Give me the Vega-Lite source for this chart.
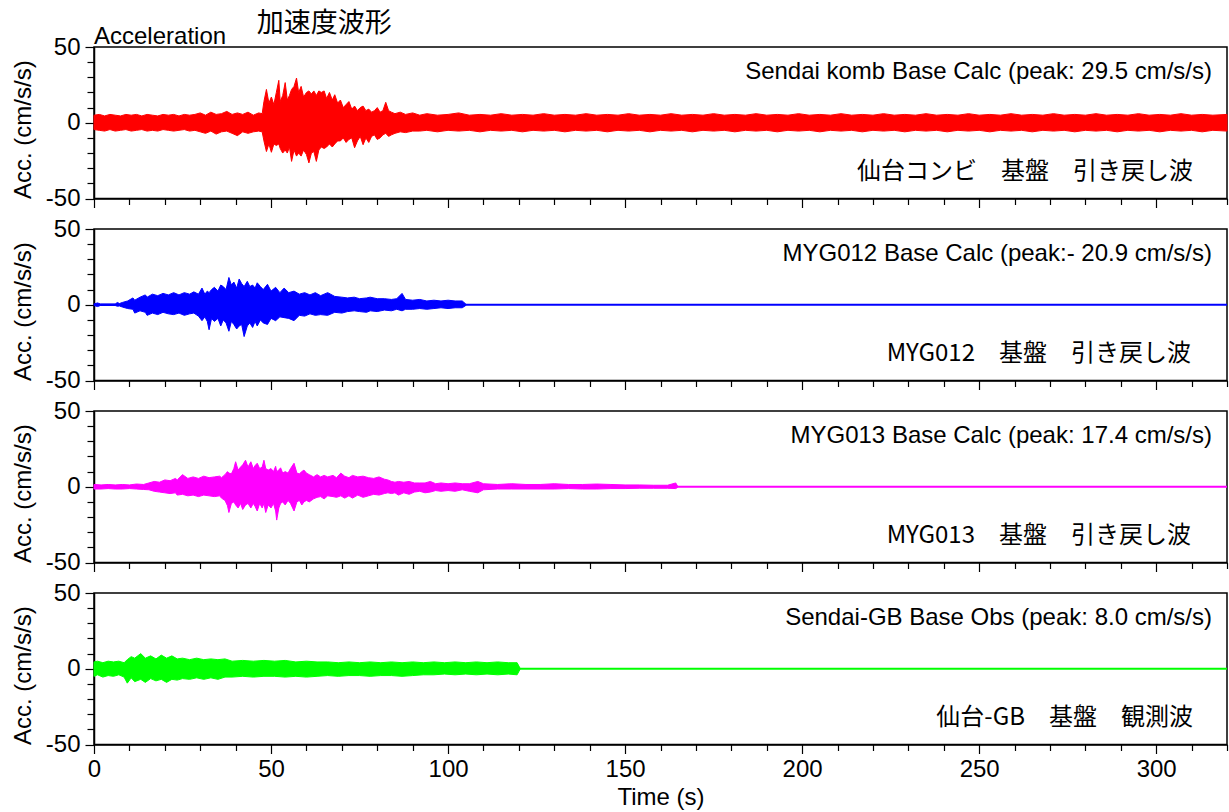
{
  "$schema": "https://vega.github.io/schema/vega-lite/v6.json",
  "padding": {"left": 10, "top": 9, "right": 0, "bottom": 0},
  "bounds": "flush",
  "spacing": 30,
  "config": {
    "font": "Liberation Sans",
    "view": {"stroke": "#000000", "strokeWidth": 1.5},
    "axis": {
      "grid": false, "labelFont": "Liberation Sans", "labelFontSize": 24, "labelColor": "#000000",
      "titleFont": "Liberation Sans", "titleFontSize": 24, "titleFontWeight": "normal", "titleColor": "#000000",
      "domainColor": "#000000", "domainWidth": 1.5, "tickColor": "#000000", "tickWidth": 1.2,
      "labelFlush": false, "labelOverlap": false
    },
    "axisY": {"orient": "left"},
    "axisX": {"orient": "bottom"}
  },
  "datasets": {
    "base": [{"t": 0, "v": 0}, {"t": 320, "v": 0}],
    "red": [
      {"t":0,"hi":5,"lo":-4.5},{"t":1.5,"hi":5.5,"lo":-5},{"t":3,"hi":4.5,"lo":-5.5},{"t":4.5,"hi":5.5,"lo":-4.5},{"t":6,"hi":5,"lo":-5.5},{"t":7.5,"hi":4.5,"lo":-5},{"t":9,"hi":5.5,"lo":-4.5},{"t":10.5,"hi":5,"lo":-5.5},{"t":12,"hi":5.5,"lo":-5},{"t":13.5,"hi":4.5,"lo":-4.5},{"t":15,"hi":5.5,"lo":-5.5},{"t":16.5,"hi":5,"lo":-5},{"t":18,"hi":4.5,"lo":-5.5},{"t":19.5,"hi":5.5,"lo":-4.5},{"t":21,"hi":5,"lo":-5},{"t":22.5,"hi":5.5,"lo":-5.5},{"t":24,"hi":4.5,"lo":-5},{"t":25.5,"hi":5.5,"lo":-4.5},{"t":27,"hi":5,"lo":-5.5},{"t":28.5,"hi":5.5,"lo":-5},
      {"t":30,"hi":6.5,"lo":-6},{"t":31.5,"hi":5,"lo":-7},{"t":33,"hi":7,"lo":-5.5},{"t":34.5,"hi":5.5,"lo":-7.5},{"t":36,"hi":6,"lo":-6},{"t":37.5,"hi":7.5,"lo":-5.5},{"t":39,"hi":5.5,"lo":-7},{"t":40.5,"hi":6.5,"lo":-8.5},{"t":42,"hi":5.5,"lo":-6},{"t":43.5,"hi":7,"lo":-7},{"t":45,"hi":5,"lo":-6},{"t":46.5,"hi":6.5,"lo":-5.5},{"t":47.5,"hi":6,"lo":-6},
      {"t":48,"hi":14,"lo":-12},{"t":48.7,"hi":22,"lo":-19},{"t":49.4,"hi":13,"lo":-14},{"t":50.1,"hi":17,"lo":-19.5},{"t":50.8,"hi":12,"lo":-14},{"t":51.5,"hi":20,"lo":-15},{"t":52.2,"hi":28,"lo":-14},{"t":52.6,"hi":14,"lo":-17},{"t":53.3,"hi":18,"lo":-20},{"t":54,"hi":26.5,"lo":-18},{"t":54.6,"hi":15,"lo":-20},{"t":55.2,"hi":18,"lo":-16},{"t":55.8,"hi":22,"lo":-25.5},{"t":56.5,"hi":24,"lo":-18},{"t":57.2,"hi":29.5,"lo":-22},{"t":57.8,"hi":20,"lo":-20},{"t":58.5,"hi":24,"lo":-22},{"t":59.2,"hi":17,"lo":-18},{"t":60,"hi":20,"lo":-21},{"t":60.7,"hi":21,"lo":-26.5},{"t":61.4,"hi":19,"lo":-20},{"t":62.1,"hi":21,"lo":-19},{"t":62.8,"hi":18,"lo":-25.5},{"t":63.5,"hi":21,"lo":-18},{"t":64.2,"hi":20,"lo":-16},{"t":65,"hi":21,"lo":-17},{"t":65.7,"hi":16,"lo":-16},{"t":66.5,"hi":20,"lo":-14},{"t":67.3,"hi":15,"lo":-16},{"t":68,"hi":18.5,"lo":-14},{"t":68.8,"hi":13,"lo":-12},{"t":69.6,"hi":15,"lo":-12},{"t":70.4,"hi":10,"lo":-10},{"t":71.2,"hi":12,"lo":-13},{"t":72,"hi":14,"lo":-11},{"t":72.8,"hi":9,"lo":-10},{"t":73.6,"hi":11,"lo":-16.5},{"t":74.4,"hi":8,"lo":-12},{"t":75.2,"hi":10,"lo":-9},{"t":76,"hi":11,"lo":-14.5},{"t":76.8,"hi":8,"lo":-10},{"t":77.6,"hi":9,"lo":-13},{"t":78.4,"hi":7,"lo":-9},{"t":79.2,"hi":8,"lo":-8},{"t":80,"hi":10,"lo":-11},{"t":80.8,"hi":7,"lo":-10},{"t":81.6,"hi":8,"lo":-8},{"t":82.4,"hi":13.5,"lo":-7},{"t":83.2,"hi":8,"lo":-9},{"t":84,"hi":7,"lo":-8},{"t":85,"hi":6,"lo":-7},{"t":86.5,"hi":7,"lo":-6},{"t":88,"hi":5.5,"lo":-6.5},{"t":90,"hi":6.5,"lo":-5.5},
      {"t":92,"hi":5,"lo":-5.5},{"t":94,"hi":6,"lo":-5},{"t":97,"hi":5,"lo":-6},{"t":100,"hi":5.5,"lo":-5},{"t":103,"hi":6.5,"lo":-5.5},{"t":106,"hi":5,"lo":-5},{"t":109,"hi":5.5,"lo":-6},{"t":112,"hi":5,"lo":-5},{"t":115,"hi":6,"lo":-5.5},{"t":118,"hi":5,"lo":-5},{"t":121,"hi":5.5,"lo":-6},{"t":124,"hi":5,"lo":-5},{"t":127,"hi":6,"lo":-5.5},{"t":130,"hi":5,"lo":-5},{"t":133,"hi":5.5,"lo":-6},{"t":136,"hi":5,"lo":-5},{"t":139,"hi":6,"lo":-5.5},{"t":142,"hi":5,"lo":-5},{"t":145,"hi":5.5,"lo":-6},{"t":148,"hi":5,"lo":-5},{"t":151,"hi":6,"lo":-5.5},{"t":154,"hi":5,"lo":-5},{"t":157,"hi":5.5,"lo":-6},{"t":160,"hi":5,"lo":-5},{"t":163,"hi":6,"lo":-5.5},{"t":166,"hi":5,"lo":-5},{"t":169,"hi":5.5,"lo":-6},{"t":172,"hi":5,"lo":-5},{"t":175,"hi":6,"lo":-5.5},{"t":178,"hi":5,"lo":-5},{"t":181,"hi":5.5,"lo":-6},{"t":184,"hi":5,"lo":-5},{"t":187,"hi":6,"lo":-5.5},{"t":190,"hi":5,"lo":-5},{"t":193,"hi":5.5,"lo":-6},{"t":196,"hi":5,"lo":-5},{"t":199,"hi":6,"lo":-5.5},{"t":202,"hi":5,"lo":-5},{"t":205,"hi":5.5,"lo":-6},{"t":208,"hi":5,"lo":-5},{"t":211,"hi":6,"lo":-5.5},{"t":214,"hi":5,"lo":-5},{"t":217,"hi":5.5,"lo":-6},{"t":220,"hi":5,"lo":-5},{"t":223,"hi":6,"lo":-5.5},{"t":226,"hi":5,"lo":-5},{"t":229,"hi":5.5,"lo":-6},{"t":232,"hi":5,"lo":-5},{"t":235,"hi":6,"lo":-5.5},{"t":238,"hi":5,"lo":-5},{"t":241,"hi":5.5,"lo":-6},{"t":244,"hi":5,"lo":-5},{"t":247,"hi":6,"lo":-5.5},{"t":250,"hi":5,"lo":-5},{"t":253,"hi":5.5,"lo":-6},{"t":256,"hi":5,"lo":-5},{"t":259,"hi":6,"lo":-5.5},{"t":262,"hi":5,"lo":-5},{"t":265,"hi":5.5,"lo":-6},{"t":268,"hi":5,"lo":-5},{"t":271,"hi":6,"lo":-5.5},{"t":274,"hi":5,"lo":-5},{"t":277,"hi":5.5,"lo":-6},{"t":280,"hi":5,"lo":-5},{"t":283,"hi":6,"lo":-5.5},{"t":286,"hi":5,"lo":-5},{"t":289,"hi":5.5,"lo":-6},{"t":292,"hi":5,"lo":-5},{"t":295,"hi":6,"lo":-5.5},{"t":298,"hi":5,"lo":-5},{"t":301,"hi":5.5,"lo":-6},{"t":304,"hi":5,"lo":-5},{"t":307,"hi":6,"lo":-5.5},{"t":310,"hi":5,"lo":-5},{"t":313,"hi":5.5,"lo":-6},{"t":316,"hi":5,"lo":-5},{"t":320,"hi":5.5,"lo":-5.5}
    ],
    "blue": [
      {"t":0,"hi":0.5,"lo":-0.5},{"t":1,"hi":1.2,"lo":-1.2},{"t":1.8,"hi":0.5,"lo":-0.5},{"t":6,"hi":0.5,"lo":-0.5},{"t":6.6,"hi":1.5,"lo":-1},{"t":7.2,"hi":0.8,"lo":-0.8},{"t":8,"hi":1.5,"lo":-1.5},{"t":9.5,"hi":2.5,"lo":-2.5},{"t":11,"hi":4.5,"lo":-3},{"t":11.5,"hi":3,"lo":-5.5},{"t":13,"hi":5,"lo":-4},{"t":14.5,"hi":6.5,"lo":-5},{"t":15,"hi":5,"lo":-7},{"t":16.5,"hi":7,"lo":-5.5},{"t":18,"hi":6,"lo":-6.5},{"t":19.5,"hi":7.5,"lo":-5},{"t":21,"hi":6.5,"lo":-6},{"t":22.5,"hi":8,"lo":-6.5},{"t":24,"hi":6.5,"lo":-5.5},{"t":25.5,"hi":8,"lo":-7},{"t":27,"hi":7,"lo":-6},{"t":28.2,"hi":8.5,"lo":-5.5},{"t":29.5,"hi":7,"lo":-7.5},{"t":30.5,"hi":11,"lo":-10.5},{"t":31.3,"hi":7,"lo":-8},{"t":32,"hi":9,"lo":-11},{"t":32.5,"hi":8,"lo":-16.5},{"t":33.2,"hi":10,"lo":-9},{"t":34,"hi":11.5,"lo":-11},{"t":35,"hi":9,"lo":-9},{"t":35.8,"hi":13,"lo":-14},{"t":36.5,"hi":12,"lo":-10},{"t":37.3,"hi":10,"lo":-12},{"t":38.1,"hi":18,"lo":-17.5},{"t":38.8,"hi":13,"lo":-11},{"t":39.5,"hi":15,"lo":-13},{"t":40.3,"hi":11,"lo":-16},{"t":41,"hi":17,"lo":-14},{"t":41.7,"hi":14,"lo":-13},{"t":42.4,"hi":12,"lo":-21},{"t":43.3,"hi":15.5,"lo":-14},{"t":44,"hi":12,"lo":-12},{"t":44.8,"hi":13,"lo":-15},{"t":45.5,"hi":11,"lo":-11},{"t":46.1,"hi":14.5,"lo":-14},{"t":47,"hi":12,"lo":-10},{"t":47.8,"hi":10,"lo":-12},{"t":49,"hi":13.5,"lo":-13},{"t":50,"hi":9,"lo":-9},{"t":51.3,"hi":11.5,"lo":-10.5},{"t":52.5,"hi":8,"lo":-8},{"t":53.7,"hi":11,"lo":-8.5},{"t":55,"hi":8,"lo":-9},{"t":56.5,"hi":9,"lo":-10.5},{"t":58,"hi":7,"lo":-7},{"t":59.5,"hi":8,"lo":-7.5},{"t":61,"hi":6.5,"lo":-6},{"t":62.5,"hi":8,"lo":-7},{"t":64,"hi":6,"lo":-6.5},{"t":66,"hi":8,"lo":-7},{"t":68,"hi":5.5,"lo":-5},{"t":70,"hi":5,"lo":-5.5},{"t":71.6,"hi":4.5,"lo":-4.5},{"t":73.5,"hi":5,"lo":-4},{"t":75,"hi":4,"lo":-4.5},{"t":77,"hi":4.5,"lo":-5},{"t":78,"hi":5,"lo":-4},{"t":80,"hi":4,"lo":-4.5},{"t":82,"hi":4,"lo":-3.5},{"t":84,"hi":3.5,"lo":-4},{"t":85.5,"hi":4,"lo":-3},{"t":87,"hi":7.5,"lo":-4},{"t":88,"hi":3.5,"lo":-3},{"t":90,"hi":3,"lo":-3},{"t":92,"hi":3.5,"lo":-2.5},{"t":94,"hi":2.5,"lo":-3},{"t":96,"hi":3,"lo":-2.5},{"t":98,"hi":2.5,"lo":-2},{"t":100,"hi":3,"lo":-2.5},{"t":102,"hi":2.5,"lo":-2},{"t":104,"hi":2.5,"lo":-2},{"t":105,"hi":0.5,"lo":-0.5}
    ],
    "mag": [
      {"t":0,"hi":1.5,"lo":-1.5},{"t":2,"hi":1.2,"lo":-1.5},{"t":4,"hi":1.5,"lo":-1.2},{"t":6,"hi":1.2,"lo":-1.5},{"t":8,"hi":1.5,"lo":-1.5},{"t":10,"hi":1.2,"lo":-1.2},{"t":12,"hi":1.8,"lo":-1.5},{"t":14,"hi":1.5,"lo":-1.8},{"t":15.5,"hi":2.5,"lo":-2},{"t":17,"hi":3.5,"lo":-3},{"t":18.5,"hi":3,"lo":-3.5},{"t":20,"hi":4.5,"lo":-4},{"t":21.5,"hi":4,"lo":-4.5},{"t":23,"hi":5.5,"lo":-4},{"t":23.5,"hi":4.5,"lo":-5.5},{"t":25,"hi":8,"lo":-5},{"t":26.5,"hi":5.5,"lo":-6},{"t":28,"hi":6.5,"lo":-5.5},{"t":29.5,"hi":5.5,"lo":-6.5},{"t":31,"hi":7,"lo":-5.5},{"t":32.5,"hi":6,"lo":-6},{"t":34,"hi":6.5,"lo":-6.5},{"t":35.5,"hi":7,"lo":-6},{"t":36,"hi":6,"lo":-7.5},{"t":37,"hi":8,"lo":-9},{"t":37.7,"hi":10,"lo":-12.5},{"t":38.1,"hi":9,"lo":-17},{"t":38.8,"hi":8.5,"lo":-11},{"t":39.5,"hi":12,"lo":-10},{"t":40,"hi":16.5,"lo":-12},{"t":40.7,"hi":11,"lo":-14},{"t":41.4,"hi":13,"lo":-11},{"t":42,"hi":14.5,"lo":-15},{"t":42.8,"hi":17.5,"lo":-12},{"t":43.5,"hi":13,"lo":-11},{"t":44.3,"hi":16.5,"lo":-14},{"t":45,"hi":12,"lo":-11},{"t":45.5,"hi":14,"lo":-13},{"t":46.1,"hi":15.5,"lo":-16},{"t":46.8,"hi":12,"lo":-11},{"t":47.5,"hi":13,"lo":-14},{"t":48,"hi":17.5,"lo":-11},{"t":48.5,"hi":12,"lo":-17},{"t":49.2,"hi":11,"lo":-12},{"t":50,"hi":12,"lo":-14},{"t":50.7,"hi":10,"lo":-11},{"t":51.3,"hi":13.5,"lo":-16},{"t":51.6,"hi":10,"lo":-22},{"t":52.2,"hi":11,"lo":-14},{"t":52.7,"hi":12.5,"lo":-11},{"t":53.3,"hi":9,"lo":-10},{"t":54,"hi":10,"lo":-12},{"t":54.8,"hi":9,"lo":-9},{"t":55.5,"hi":12,"lo":-11},{"t":56.5,"hi":15.5,"lo":-16},{"t":57.3,"hi":9,"lo":-10},{"t":58,"hi":8.5,"lo":-9},{"t":58.7,"hi":10,"lo":-12},{"t":59.3,"hi":11,"lo":-10},{"t":60,"hi":9,"lo":-9},{"t":60.8,"hi":8,"lo":-10},{"t":62,"hi":6.5,"lo":-8},{"t":63,"hi":8,"lo":-7},{"t":64,"hi":6.5,"lo":-6.5},{"t":65,"hi":7.5,"lo":-8},{"t":66,"hi":6.5,"lo":-6},{"t":67.5,"hi":7.5,"lo":-6.5},{"t":68.5,"hi":6,"lo":-7},{"t":69.7,"hi":9,"lo":-6},{"t":70.8,"hi":7,"lo":-7.5},{"t":72,"hi":6,"lo":-6},{"t":73,"hi":7.5,"lo":-7.5},{"t":74.5,"hi":6.5,"lo":-5.5},{"t":76,"hi":7,"lo":-7},{"t":77.5,"hi":6,"lo":-6},{"t":79,"hi":5.5,"lo":-5},{"t":80.5,"hi":6.5,"lo":-5.5},{"t":82,"hi":5,"lo":-4.5},{"t":83,"hi":4.5,"lo":-4},{"t":84,"hi":3.5,"lo":-4.5},{"t":85,"hi":3,"lo":-4},{"t":86,"hi":3.5,"lo":-5.5},{"t":87.5,"hi":3,"lo":-4},{"t":89,"hi":3.5,"lo":-5},{"t":90.5,"hi":2.5,"lo":-3.5},{"t":92,"hi":2.5,"lo":-3},{"t":93.5,"hi":2.5,"lo":-4},{"t":95,"hi":3.5,"lo":-3.5},{"t":96.5,"hi":2,"lo":-2.5},{"t":98,"hi":2.5,"lo":-3},{"t":100,"hi":2,"lo":-2.5},{"t":102,"hi":2.5,"lo":-3},{"t":104,"hi":2,"lo":-2},{"t":106,"hi":2,"lo":-3},{"t":108.4,"hi":3.5,"lo":-4},{"t":110,"hi":2,"lo":-2},{"t":114,"hi":1.5,"lo":-1.5},{"t":118,"hi":2,"lo":-1.5},{"t":122,"hi":1.5,"lo":-1.5},{"t":126,"hi":1.5,"lo":-1.5},{"t":130,"hi":2,"lo":-1.5},{"t":134,"hi":1.5,"lo":-1.2},{"t":138,"hi":1.5,"lo":-1.5},{"t":142,"hi":1.8,"lo":-1.5},{"t":146,"hi":1.5,"lo":-1.2},{"t":150,"hi":1.2,"lo":-1.2},{"t":154,"hi":1.2,"lo":-1},{"t":158,"hi":1,"lo":-1},{"t":162,"hi":1,"lo":-1},{"t":164.3,"hi":2.5,"lo":-1.2},{"t":164.8,"hi":0.5,"lo":-0.5}
    ],
    "green": [
      {"t":0,"hi":4.5,"lo":-5},{"t":1,"hi":5,"lo":-4},{"t":2.5,"hi":4,"lo":-5.5},{"t":4,"hi":5,"lo":-4.5},{"t":5.5,"hi":4.5,"lo":-5},{"t":7,"hi":5,"lo":-4},{"t":8.5,"hi":4,"lo":-5.5},{"t":9.4,"hi":6,"lo":-9.5},{"t":10.5,"hi":8,"lo":-6},{"t":11.5,"hi":7,"lo":-8.5},{"t":13.2,"hi":10,"lo":-7},{"t":14.5,"hi":7,"lo":-9},{"t":16,"hi":8.5,"lo":-6.5},{"t":17.5,"hi":6.5,"lo":-8},{"t":19,"hi":9,"lo":-7},{"t":20.5,"hi":7,"lo":-9},{"t":22,"hi":8.5,"lo":-7},{"t":23.5,"hi":6.5,"lo":-7.5},{"t":25,"hi":7,"lo":-6.5},{"t":27,"hi":6,"lo":-7},{"t":29,"hi":7,"lo":-6},{"t":31,"hi":6,"lo":-7},{"t":33,"hi":6.5,"lo":-6},{"t":35,"hi":6,"lo":-7},{"t":37,"hi":6.5,"lo":-5.5},{"t":39,"hi":5,"lo":-5.5},{"t":42,"hi":5.5,"lo":-5},{"t":45,"hi":5,"lo":-5.5},{"t":48,"hi":5.5,"lo":-5},{"t":51,"hi":5,"lo":-5},{"t":54,"hi":5.5,"lo":-5.5},{"t":57,"hi":4.5,"lo":-5},{"t":60,"hi":5,"lo":-5.5},{"t":63,"hi":4.5,"lo":-5},{"t":66,"hi":4.5,"lo":-4.5},{"t":69,"hi":4,"lo":-5},{"t":72,"hi":4.5,"lo":-4.5},{"t":75,"hi":4,"lo":-4.5},{"t":78,"hi":4.5,"lo":-5},{"t":81,"hi":4,"lo":-4.5},{"t":84,"hi":4.5,"lo":-4.5},{"t":87,"hi":4,"lo":-5},{"t":90,"hi":4.5,"lo":-4.5},{"t":93,"hi":4,"lo":-4},{"t":96,"hi":4.5,"lo":-4},{"t":99,"hi":4,"lo":-3.5},{"t":102,"hi":4.5,"lo":-4},{"t":105,"hi":4,"lo":-3.5},{"t":108,"hi":4.5,"lo":-4},{"t":111,"hi":4,"lo":-3.5},{"t":114,"hi":4.5,"lo":-4},{"t":117,"hi":4,"lo":-3.5},{"t":119.5,"hi":4,"lo":-4},{"t":120.3,"hi":0.5,"lo":-0.5}
    ]
  },
  "vconcat": [
    {
      "width": 1133, "height": 151.5,
      "resolve": {"axis": {"x": "independent", "y": "independent"}},
      "layer": [
        {"data": {"name": "red"}, "mark": {"type": "area", "color": "#ff0000", "stroke": "#ff0000", "strokeWidth": 1},
         "encoding": {
           "x": {"field": "t", "type": "quantitative", "scale": {"domain": [0, 320], "nice": false, "zero": false},
                 "axis": {"orient": "bottom", "title": null, "labels": false, "values": [0,10,20,30,40,50,60,70,80,90,100,110,120,130,140,150,160,170,180,190,200,210,220,230,240,250,260,270,280,290,300,310,320], "tickSize": {"condition": {"test": "datum.value % 50 === 0", "value": 9}, "value": 6}}},
           "y": {"field": "hi", "type": "quantitative", "scale": {"domain": [-50, 50], "nice": false},
                 "axis": {"orient": "left", "title": "Acc. (cm/s/s)", "titleAnchor": "start", "titlePadding": 10, "labelPadding": 5, "values": [-50, 0, 50], "labelExpr": "toString(datum.value)", "tickSize": 9}},
           "y2": {"field": "lo"}
         }},
        {"data": {"name": "base"}, "mark": {"type": "line", "color": "#ff0000", "strokeWidth": 1},
         "encoding": {
           "x": {"field": "t", "type": "quantitative", "axis": null},
           "y": {"field": "v", "type": "quantitative", "axis": {"orient": "left", "title": null, "labels": false, "domain": false, "values": [-40,-30,-20,-10,10,20,30,40], "tickSize": 7}}
         }},
        {"data": {"values": [{"a": "Sendai komb Base Calc (peak: 29.5 cm/s/s)"}]}, "mark": {"type": "text", "align": "right", "baseline": "alphabetic", "dx": -15, "fontSize": 24, "font": "Liberation Sans", "color": "#000000"},
         "encoding": {"x": {"datum": 320, "axis": null}, "y": {"datum": 28.6, "axis": null}, "text": {"field": "a"}}},
        {"data": {"values": [{"a": "仙台コンビ　基盤　引き戻し波"}]}, "mark": {"type": "text", "align": "right", "baseline": "alphabetic", "dx": -34, "fontSize": 24, "font": "Noto Sans CJK JP", "color": "#000000"},
         "encoding": {"x": {"datum": 320, "axis": null}, "y": {"datum": -37, "axis": null}, "text": {"field": "a"}}},
        {"data": {"values": [{"a": "Acceleration"}]}, "mark": {"type": "text", "align": "left", "baseline": "alphabetic", "dy": -3, "fontSize": 24, "font": "Liberation Sans", "color": "#000000"},
         "encoding": {"x": {"datum": 0, "axis": null}, "y": {"datum": 50, "axis": null}, "text": {"field": "a"}}},
        {"data": {"values": [{"a": "加速度波形"}]}, "mark": {"type": "text", "align": "left", "baseline": "alphabetic", "dy": -15, "fontSize": 27, "font": "Noto Sans CJK JP", "color": "#000000"},
         "encoding": {"x": {"datum": 46, "axis": null}, "y": {"datum": 50, "axis": null}, "text": {"field": "a"}}}
      ]
    },
    {
      "width": 1133, "height": 151.5,
      "resolve": {"axis": {"x": "independent", "y": "independent"}},
      "layer": [
        {"data": {"name": "base"}, "mark": {"type": "line", "color": "#0000ff", "strokeWidth": 2},
         "encoding": {
           "x": {"field": "t", "type": "quantitative", "scale": {"domain": [0, 320], "nice": false, "zero": false},
                 "axis": {"orient": "bottom", "title": null, "labels": false, "values": [0,10,20,30,40,50,60,70,80,90,100,110,120,130,140,150,160,170,180,190,200,210,220,230,240,250,260,270,280,290,300,310,320], "tickSize": {"condition": {"test": "datum.value % 50 === 0", "value": 9}, "value": 6}}},
           "y": {"field": "v", "type": "quantitative", "scale": {"domain": [-50, 50], "nice": false},
                 "axis": {"orient": "left", "title": "Acc. (cm/s/s)", "titleAnchor": "start", "titlePadding": 10, "labelPadding": 5, "values": [-50, 0, 50], "labelExpr": "toString(datum.value)", "tickSize": 9}}
         }},
        {"data": {"name": "blue"}, "mark": {"type": "area", "color": "#0000ff", "stroke": "#0000ff", "strokeWidth": 1},
         "encoding": {"x": {"field": "t", "type": "quantitative", "axis": null},
           "y": {"field": "hi", "type": "quantitative", "axis": {"orient": "left", "title": null, "labels": false, "domain": false, "values": [-40,-30,-20,-10,10,20,30,40], "tickSize": 7}},
           "y2": {"field": "lo"}}},
        {"data": {"values": [{"a": "MYG012 Base Calc (peak:- 20.9 cm/s/s)"}]}, "mark": {"type": "text", "align": "right", "baseline": "alphabetic", "dx": -15, "fontSize": 24, "font": "Liberation Sans", "color": "#000000"},
         "encoding": {"x": {"datum": 320, "axis": null}, "y": {"datum": 28.6, "axis": null}, "text": {"field": "a"}}},
        {"data": {"values": [{"a": "MYG012　基盤　引き戻し波"}]}, "mark": {"type": "text", "align": "right", "baseline": "alphabetic", "dx": -36, "fontSize": 24, "font": "Noto Sans CJK JP", "color": "#000000"},
         "encoding": {"x": {"datum": 320, "axis": null}, "y": {"datum": -37, "axis": null}, "text": {"field": "a"}}}
      ]
    },
    {
      "width": 1133, "height": 151.5,
      "resolve": {"axis": {"x": "independent", "y": "independent"}},
      "layer": [
        {"data": {"name": "base"}, "mark": {"type": "line", "color": "#ff00ff", "strokeWidth": 2},
         "encoding": {
           "x": {"field": "t", "type": "quantitative", "scale": {"domain": [0, 320], "nice": false, "zero": false},
                 "axis": {"orient": "bottom", "title": null, "labels": false, "values": [0,10,20,30,40,50,60,70,80,90,100,110,120,130,140,150,160,170,180,190,200,210,220,230,240,250,260,270,280,290,300,310,320], "tickSize": {"condition": {"test": "datum.value % 50 === 0", "value": 9}, "value": 6}}},
           "y": {"field": "v", "type": "quantitative", "scale": {"domain": [-50, 50], "nice": false},
                 "axis": {"orient": "left", "title": "Acc. (cm/s/s)", "titleAnchor": "start", "titlePadding": 10, "labelPadding": 5, "values": [-50, 0, 50], "labelExpr": "toString(datum.value)", "tickSize": 9}}
         }},
        {"data": {"name": "mag"}, "mark": {"type": "area", "color": "#ff00ff", "stroke": "#ff00ff", "strokeWidth": 1},
         "encoding": {"x": {"field": "t", "type": "quantitative", "axis": null},
           "y": {"field": "hi", "type": "quantitative", "axis": {"orient": "left", "title": null, "labels": false, "domain": false, "values": [-40,-30,-20,-10,10,20,30,40], "tickSize": 7}},
           "y2": {"field": "lo"}}},
        {"data": {"values": [{"a": "MYG013 Base Calc (peak: 17.4 cm/s/s)"}]}, "mark": {"type": "text", "align": "right", "baseline": "alphabetic", "dx": -15, "fontSize": 24, "font": "Liberation Sans", "color": "#000000"},
         "encoding": {"x": {"datum": 320, "axis": null}, "y": {"datum": 28.6, "axis": null}, "text": {"field": "a"}}},
        {"data": {"values": [{"a": "MYG013　基盤　引き戻し波"}]}, "mark": {"type": "text", "align": "right", "baseline": "alphabetic", "dx": -36, "fontSize": 24, "font": "Noto Sans CJK JP", "color": "#000000"},
         "encoding": {"x": {"datum": 320, "axis": null}, "y": {"datum": -37, "axis": null}, "text": {"field": "a"}}}
      ]
    },
    {
      "width": 1133, "height": 151.5,
      "resolve": {"axis": {"x": "independent", "y": "independent"}},
      "layer": [
        {"data": {"name": "base"}, "mark": {"type": "line", "color": "#00ff00", "strokeWidth": 2},
         "encoding": {
           "x": {"field": "t", "type": "quantitative", "scale": {"domain": [0, 320], "nice": false, "zero": false},
                 "axis": {"orient": "bottom", "title": "Time (s)", "titlePadding": 4, "labelPadding": 4, "values": [0, 50, 100, 150, 200, 250, 300], "labelExpr": "toString(datum.value)", "tickSize": 9}},
           "y": {"field": "v", "type": "quantitative", "scale": {"domain": [-50, 50], "nice": false},
                 "axis": {"orient": "left", "title": "Acc. (cm/s/s)", "titleAnchor": "start", "titlePadding": 10, "labelPadding": 5, "values": [-50, 0, 50], "labelExpr": "toString(datum.value)", "tickSize": 9}}
         }},
        {"data": {"name": "green"}, "mark": {"type": "area", "color": "#00ff00", "stroke": "#00ff00", "strokeWidth": 1},
         "encoding": {"x": {"field": "t", "type": "quantitative", "axis": {"orient": "bottom", "title": null, "labels": false, "domain": false, "values": [10,20,30,40,60,70,80,90,110,120,130,140,160,170,180,190,210,220,230,240,260,270,280,290,310,320], "tickSize": 6}},
           "y": {"field": "hi", "type": "quantitative", "axis": {"orient": "left", "title": null, "labels": false, "domain": false, "values": [-40,-30,-20,-10,10,20,30,40], "tickSize": 7}},
           "y2": {"field": "lo"}}},
        {"data": {"values": [{"a": "Sendai-GB Base Obs (peak: 8.0 cm/s/s)"}]}, "mark": {"type": "text", "align": "right", "baseline": "alphabetic", "dx": -15, "fontSize": 24, "font": "Liberation Sans", "color": "#000000"},
         "encoding": {"x": {"datum": 320, "axis": null}, "y": {"datum": 28.6, "axis": null}, "text": {"field": "a"}}},
        {"data": {"values": [{"a": "仙台-GB　基盤　観測波"}]}, "mark": {"type": "text", "align": "right", "baseline": "alphabetic", "dx": -34, "fontSize": 24, "font": "Noto Sans CJK JP", "color": "#000000"},
         "encoding": {"x": {"datum": 320, "axis": null}, "y": {"datum": -37, "axis": null}, "text": {"field": "a"}}}
      ]
    }
  ]
}
